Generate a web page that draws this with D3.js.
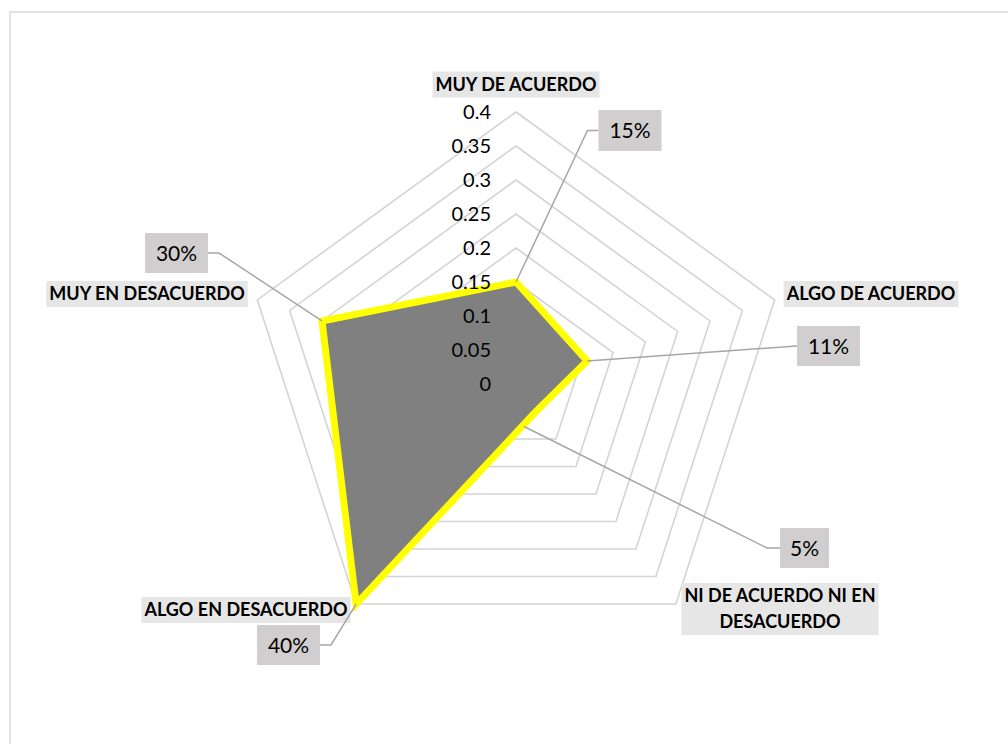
<!DOCTYPE html>
<html>
<head>
<meta charset="utf-8">
<script src="https://cdn.jsdelivr.net/npm/d3@7"></script>
<style>
  body { margin: 0; background: #fff; }
  svg { display: block; font-family: Lato, "Open Sans", sans-serif; }
</style>
</head>
<body>
<div id="radar"></div>
<script>
// data
const categories = ["MUY DE ACUERDO", "ALGO DE ACUERDO", "NI DE ACUERDO NI EN DESACUERDO", "ALGO EN DESACUERDO", "MUY EN DESACUERDO"];
const values = [0.15, 0.11, 0.05, 0.40, 0.30];
const valueLabels = ["15%", "11%", "5%", "40%", "30%"];
const ticks = [0, 0.05, 0.1, 0.15, 0.2, 0.25, 0.3, 0.35, 0.4];

// layout
const width = 1008, height = 744;
const cx = 516, cy = 384, R = 272;

// category label centres (lines for wrapped ones)
const catLayout = [
    {x: 516, y: 84.5, lines: ["MUY DE ACUERDO"]},
    {x: 871, y: 294, lines: ["ALGO DE ACUERDO"]},
    {x: 780, y: 609, lines: ["NI DE ACUERDO NI EN", "DESACUERDO"]},
    {x: 246, y: 610, lines: ["ALGO EN DESACUERDO"]},
    {x: 147, y: 294, lines: ["MUY EN DESACUERDO"]}
];
// data label boxes: centre, size, leader side, leader elbow, end offset from vertex
const lblLayout = [
    {x: 630, y: 130.5, w: 63, h: 41, side: -1, elbow: 11, off: [0, 0]},
    {x: 828.5, y: 346, w: 63, h: 40, side: -1, elbow: 0, off: [0, 0]},
    {x: 804.5, y: 548, w: 49, h: 40, side: -1, elbow: 13, off: [-12, 15]},
    {x: 288.5, y: 645, w: 63, h: 40, side: 1, elbow: 11, off: [0, 0]},
    {x: 176.5, y: 253, w: 63, h: 40, side: 1, elbow: 11, off: [0, 0]}
];

const rScale = d3.scaleLinear().domain([0, 0.4]).range([0, R]);
const angle = i => (i * 2 * Math.PI) / categories.length;
const pt = (i, v) => [cx + rScale(v) * Math.sin(angle(i)), cy - rScale(v) * Math.cos(angle(i))];

const svg = d3.select('#radar')
    .append('svg')
        .attr('width', width)
        .attr('height', height);

// chart area border
svg.append('rect')
    .attr('x', 10).attr('y', 12)
    .attr('width', 1100).attr('height', 900)
    .attr('fill', 'none')
    .attr('stroke', '#d9d9d9')
    .attr('stroke-width', 1.5);

const line = d3.line();

// grid rings
svg.append('g')
    .selectAll('path')
    .data(ticks.filter(t => t > 0))
    .join('path')
        .attr('d', t => line(categories.map((c, i) => pt(i, t))) + 'Z')
        .attr('fill', 'none')
        .attr('stroke', '#d4d4d4')
        .attr('stroke-width', 1.6);

// series polygon
svg.append('path')
    .attr('d', line(values.map((v, i) => pt(i, v))) + 'Z')
    .attr('fill', '#808080')
    .attr('stroke', '#ffff00')
    .attr('stroke-width', 7)
    .attr('stroke-linejoin', 'miter');

// tick labels
svg.append('g')
    .selectAll('text')
    .data(ticks)
    .join('text')
        .attr('x', 491)
        .attr('y', t => cy - rScale(t))
        .attr('dy', '0.36em')
        .attr('text-anchor', 'end')
        .attr('font-size', 20)
        .attr('fill', '#000')
        .text(t => d3.format('')(t));

// category labels
const cat = svg.append('g')
    .selectAll('g')
    .data(catLayout)
    .join('g');

cat.each(function (d) {
    const g = d3.select(this);
    const lh = 26;
    const top = d.y - (d.lines.length * lh) / 2;
    const txt = g.selectAll('text')
        .data(d.lines)
        .join('text')
            .attr('x', d.x)
            .attr('y', (l, j) => top + j * lh + lh / 2)
            .attr('dy', '0.36em')
            .attr('text-anchor', 'middle')
            .attr('font-size', 18)
            .attr('font-weight', 'bold')
            .attr('fill', '#000')
            .text(l => l);
    let maxW = 0;
    txt.each(function () { maxW = Math.max(maxW, this.getComputedTextLength()); });
    g.insert('rect', 'text')
        .attr('x', d.x - maxW / 2 - 3)
        .attr('y', top)
        .attr('width', maxW + 6)
        .attr('height', d.lines.length * lh)
        .attr('fill', '#e7e6e6');
});

// leader lines
svg.append('g')
    .selectAll('path')
    .data(values)
    .join('path')
        .attr('d', (v, i) => {
            const L = lblLayout[i];
            const p = pt(i, v);
            const sx = L.x + L.side * L.w / 2;
            const pts = [[sx, L.y]];
            if (L.elbow) pts.push([sx + L.side * L.elbow, L.y]);
            pts.push([p[0] + L.off[0], p[1] + L.off[1]]);
            return line(pts);
        })
        .attr('fill', 'none')
        .attr('stroke', '#a6a6a6')
        .attr('stroke-width', 1.5);

// data labels
const lbl = svg.append('g')
    .selectAll('g')
    .data(valueLabels)
    .join('g');

lbl.append('rect')
    .attr('x', (d, i) => lblLayout[i].x - lblLayout[i].w / 2)
    .attr('y', (d, i) => lblLayout[i].y - lblLayout[i].h / 2)
    .attr('width', (d, i) => lblLayout[i].w)
    .attr('height', (d, i) => lblLayout[i].h)
    .attr('fill', '#d0cece');

lbl.append('text')
    .attr('x', (d, i) => lblLayout[i].x)
    .attr('y', (d, i) => lblLayout[i].y)
    .attr('dy', '0.36em')
    .attr('text-anchor', 'middle')
    .attr('font-size', 21)
    .attr('fill', '#000')
    .text(d => d);
</script>
</body>
</html>
